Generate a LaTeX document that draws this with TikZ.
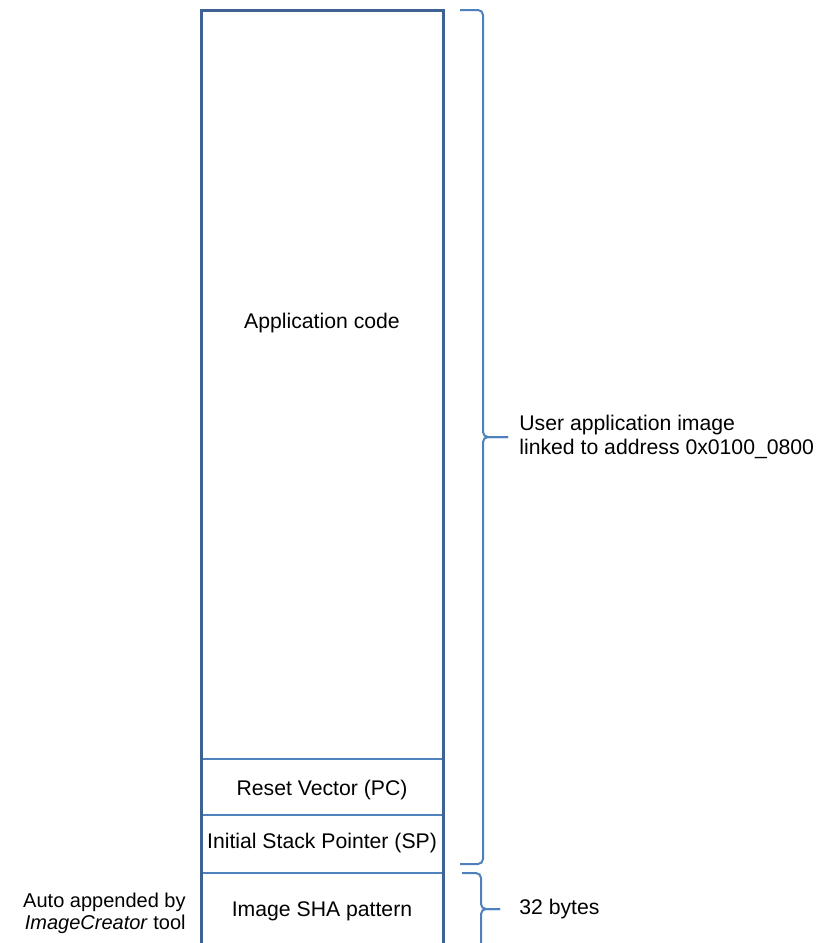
\documentclass[tikz,border=0pt]{standalone}
\usepackage{fontspec}
\setmainfont{Liberation Sans}
\usepackage{xcolor}
\usepackage{tikz}
\usetikzlibrary{positioning, calc}
\definecolor{frameblue}{RGB}{62, 98, 148}
\definecolor{lineblue}{RGB}{79, 129, 189}
\definecolor{braceblue}{RGB}{78, 128, 190}

\tikzset{
    frame/.style={frameblue, line width=1.5pt},
    divider/.style={lineblue, line width=0.9pt},
    curly/.style={braceblue, line width=1pt, rounded corners=2.5pt},
    label/.style={inner sep=0pt, font=\fontsize{10.6}{12}\selectfont}
}

\begin{document}
\begin{tikzpicture}[x=0.5pt, y=-0.5pt]
    \useasboundingbox (0,0) rectangle (818,943);

    % Memory column
    \coordinate (colbl) at (201,943);
    \coordinate (coltl) at (201,10);
    \coordinate (coltr) at (443,10);
    \coordinate (colbr) at (443,943);

    \draw[divider] (201,759) -- (443,759);
    \draw[divider] (201,815) -- (443,815);
    \draw[divider] (201,873) -- (443,873);
    \draw[frame] (colbl) -- (coltl) -- (coltr) -- (colbr);

    \node[label, anchor=base] (appcode) at (322,328) {Application code};
    \node[label, anchor=base] (resetvec) at (322,795) {Reset Vector (PC)};
    \node[label, anchor=base] (stackptr) at (322,848) {Initial Stack Pointer (SP)};
    \node[label, anchor=base] (shapat) at (322,916) {Image SHA pattern};

    % Brace over the user image
    \coordinate (imgtip) at (508,437);
    \draw[curly] (460,10) -- (483,10) -- (483,437) -- (imgtip);
    \draw[curly] (imgtip) -- (483,437) -- (483,864) -- (460,864);
    \node[label, align=left, right=5.5pt of imgtip] (userimg)
        {User application image \\ linked to address 0x0100\_0800};

    % Brace over the SHA pattern
    \coordinate (shatip) at (500,909);
    \draw[curly] (462,873) -- (481,873) -- (481,909) -- (shatip);
    \draw[curly] (shatip) -- (481,909) -- (481,950);
    \node[label, right=9.5pt of shatip] (shabytes) {32 bytes};

    \node[label, align=right, anchor=east, font=\fontsize{10}{11}\selectfont] (autonote) at (186,913)
        {Auto appended by \\ \textit{ImageCreator} tool};
\end{tikzpicture}
\end{document}
